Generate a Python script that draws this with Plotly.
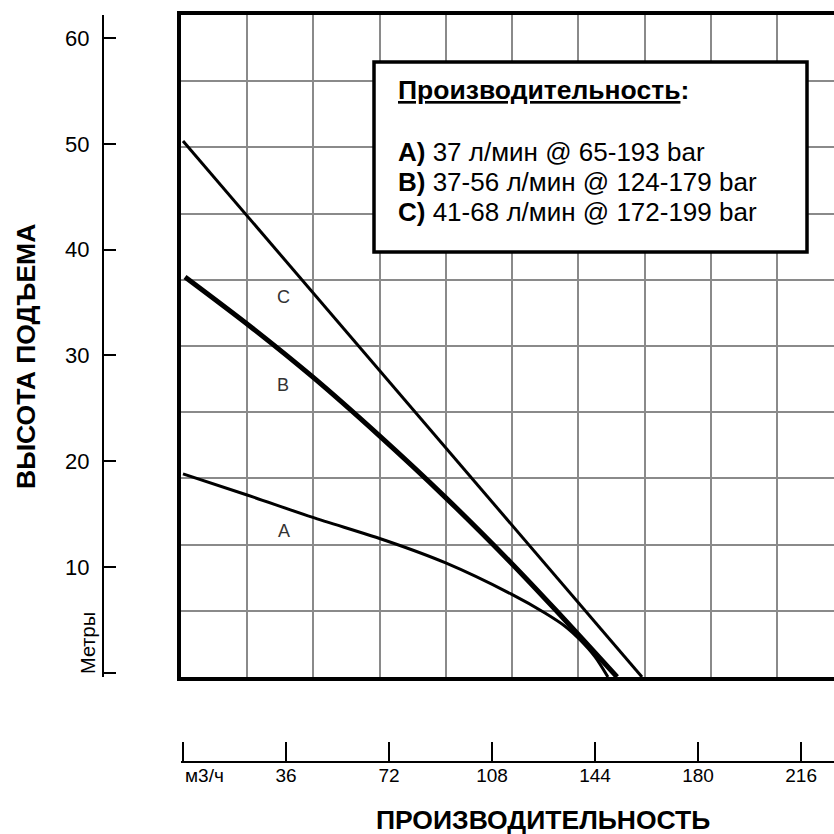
import plotly.graph_objects as go

W = H = 834

# ---- data: flow (м3/ч) vs head (м) ----
flow_A = [0, 22.4, 45.1, 71.3, 91.6, 114.6, 126.5, 133.5, 138.8, 144.0, 148.5]
head_A = [19.2, 17.2, 15.1, 12.85, 10.8, 7.85, 6.05, 4.8, 3.5, 1.9, 0]
flow_B = [0.7, 23.4, 45.1, 68.2, 91.6, 114.6, 130.0, 151.7]
head_B = [37.8, 33.15, 28.4, 22.9, 17.0, 10.8, 6.4, 0]
flow_C = [0, 40, 80, 120, 160.4]
head_C = [50.65, 38.0, 25.4, 12.8, 0]

curve_names = ["A", "B", "C"]
x_tickvals = [0, 36, 72, 108, 144, 180, 216]
x_ticktext = ["", "36", "72", "108", "144", "180", "216"]
y_tickvals = [0, 10, 20, 30, 40, 50, 60]
y_ticktext = ["", "10", "20", "30", "40", "50", "60"]

legend_title = "Производительность"
legend_lines = [
    ("A)", "37 л/мин @ 65-193 bar"),
    ("B)", "37-56 л/мин @ 124-179 bar"),
    ("C)", "41-68 л/мин @ 172-199 bar"),
]


def px_x(p):
    return p / W


def px_y(p):
    return 1 - p / H


FONT = "Arial, 'Liberation Sans', sans-serif"
x_range = [-0.7, 227.5]
y_range = [0, 62.55]

fig = go.Figure()
styles = {"A": (3, "spline"), "B": (5, "spline"), "C": (3, "linear")}
for name, xs, ys in zip(curve_names, [flow_A, flow_B, flow_C], [head_A, head_B, head_C]):
    w, shp = styles[name]
    line = dict(color="black", width=w, shape=shp)
    if shp == "spline":
        line["smoothing"] = 0.8
    fig.add_trace(go.Scatter(x=xs, y=ys, mode="lines", name=name, line=line,
                             hoverinfo="skip", showlegend=False))

# helper trace so the separate scales are drawn
fig.add_trace(go.Scatter(x=[0], y=[0], xaxis="x2", yaxis="y2", mode="markers",
                         marker=dict(opacity=0), hoverinfo="skip", showlegend=False))

grid_col = "#8a8a8a"
fig.update_layout(
    width=W, height=H, margin=dict(l=0, r=0, t=0, b=0),
    paper_bgcolor="white", plot_bgcolor="white", showlegend=False,
    font=dict(family=FONT, color="black"),
    xaxis=dict(domain=[px_x(181), 1], range=x_range, showline=True, linewidth=4, linecolor="black",
               mirror=True, showgrid=True, gridcolor=grid_col, gridwidth=1.5, tick0=-0.7, dtick=23.14,
               showticklabels=False, ticks="", zeroline=False, fixedrange=True),
    yaxis=dict(domain=[px_y(677), px_y(15)], range=y_range, showline=True, linewidth=4, linecolor="black",
               mirror=False, showgrid=True, gridcolor=grid_col, gridwidth=1.5, tick0=0, dtick=6.255,
               showticklabels=False, ticks="", zeroline=False, fixedrange=True),
    xaxis2=dict(overlaying="x", anchor="free", position=px_y(762), range=x_range, side="bottom",
                showline=True, linewidth=2, linecolor="black", ticks="inside", ticklen=19, tickwidth=2,
                tickcolor="black", tickvals=x_tickvals, ticktext=x_ticktext, tickfont=dict(size=19),
                showgrid=False, zeroline=False, fixedrange=True),
    yaxis2=dict(overlaying="y", anchor="free", position=px_x(103), side="left", range=[-0.378, 62.17],
                showline=True, linewidth=2, linecolor="black", ticks="inside", ticklen=12, tickwidth=2,
                tickcolor="black", tickvals=y_tickvals, ticktext=y_ticktext, tickfont=dict(size=22),
                ticklabelstandoff=8, showgrid=False, zeroline=False, fixedrange=True),
)
try:
    fig.update_layout(xaxis2=dict(ticklabelstandoff=-4))
except Exception:
    pass

# legend box
fig.add_shape(type="rect", xref="paper", yref="paper", x0=px_x(374), x1=px_x(807), y0=px_y(252), y1=px_y(62),
              line=dict(color="black", width=3.5), fillcolor="white", layer="above")

ann = []
ann.append(dict(x=px_x(396), y=px_y(90), xref="paper", yref="paper", xanchor="left", yanchor="middle",
                text=f"<b><u>{legend_title}</u>:</b>", showarrow=False, font=dict(size=26.5)))
for i, (lab, txt) in enumerate(legend_lines):
    ann.append(dict(x=px_x(396), y=px_y(152 + 30 * i), xref="paper", yref="paper", xanchor="left",
                    yanchor="middle", text=f"<b>{lab}</b> {txt}", showarrow=False, font=dict(size=26)))

# curve letters
for name, (lx, ly) in zip(["C", "B", "A"], [(35.0, 35.9), (35.0, 27.6), (35.3, 13.8)]):
    ann.append(dict(x=lx, y=ly, xref="x", yref="y", text=name, showarrow=False,
                    xanchor="center", yanchor="middle", font=dict(size=18, color="#333333")))

ann.append(dict(x=px_x(88), y=px_y(643), xref="paper", yref="paper", text="Метры", textangle=-90,
                xanchor="center", yanchor="middle", showarrow=False, font=dict(size=20)))
ann.append(dict(x=px_x(183), y=px_y(775), xref="paper", yref="paper", xanchor="left", yanchor="middle",
                text="м3/ч", showarrow=False, font=dict(size=19)))
ann.append(dict(x=px_x(26), y=px_y(357), xref="paper", yref="paper", text="<b>ВЫСОТА ПОДЪЕМА</b>",
                textangle=-90, xanchor="center", yanchor="middle", showarrow=False, font=dict(size=26.5)))
ann.append(dict(x=px_x(543), y=px_y(820), xref="paper", yref="paper", text="<b>ПРОИЗВОДИТЕЛЬНОСТЬ</b>",
                xanchor="center", yanchor="middle", showarrow=False, font=dict(size=26.5)))
fig.update_layout(annotations=ann)

fig.write_html("out.html", config={"displayModeBar": False},
               post_script="document.body.style.margin='0px';document.body.style.overflow='hidden';")
